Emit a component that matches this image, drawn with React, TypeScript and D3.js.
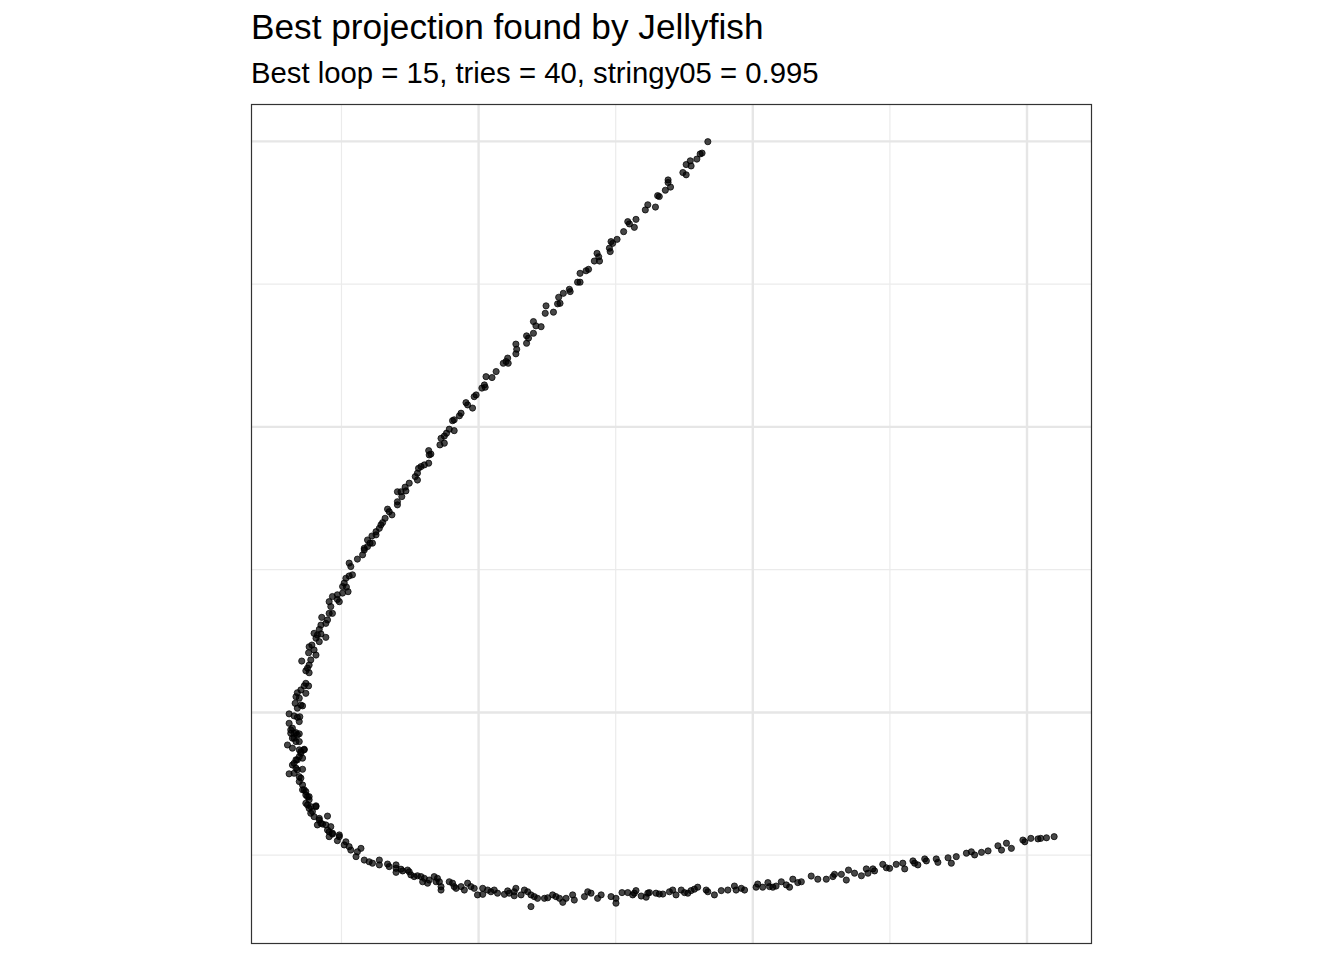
import React from "react";
import * as d3 from "d3";

const titleText = "Best projection found by Jellyfish";
const subtitleText = "Best loop = 15, tries = 40, stringy05 = 0.995";

const xDomain: [number, number] = [-0.83, 2.237];
const yDomain: [number, number] = [-0.811, 2.131];
const xMajorBreaks = [0, 1, 2];
const xMinorBreaks = [-0.5, 0.5, 1.5];
const yMajorBreaks = [0, 1, 2];
const yMinorBreaks = [-0.5, 0.5, 1.5];

// projected coordinates (P1, P2)
const upperArm: [number, number][] = [
  [0.836, 1.999], [0.815, 1.959], [0.808, 1.956], [0.796, 1.938], [0.772, 1.932],
  [0.757, 1.919], [0.775, 1.914], [0.745, 1.891], [0.757, 1.883], [0.691, 1.865],
  [0.691, 1.856], [0.7, 1.84], [0.681, 1.829], [0.653, 1.81], [0.659, 1.807],
  [0.617, 1.778], [0.608, 1.76], [0.645, 1.77], [0.574, 1.727], [0.544, 1.719],
  [0.55, 1.711], [0.568, 1.699], [0.529, 1.684], [0.505, 1.657], [0.483, 1.649],
  [0.489, 1.643], [0.477, 1.626], [0.48, 1.614], [0.432, 1.608], [0.438, 1.596],
  [0.422, 1.581], [0.441, 1.581], [0.401, 1.552], [0.392, 1.547], [0.37, 1.538],
  [0.361, 1.507], [0.37, 1.507], [0.331, 1.482],
  [0.334, 1.474], [0.309, 1.468], [0.292, 1.454], [0.297, 1.433], [0.288, 1.431],
  [0.246, 1.424], [0.273, 1.402], [0.243, 1.398], [0.2, 1.369], [0.209, 1.354],
  [0.228, 1.351], [0.2, 1.328], [0.175, 1.319], [0.182, 1.311], [0.175, 1.293],
  [0.136, 1.29], [0.139, 1.272], [0.136, 1.256], [0.106, 1.241], [0.1, 1.229],
  [0.09, 1.223], [0.108, 1.223], [0.064, 1.194], [0.049, 1.173], [0.027, 1.176],
  [0.021, 1.147], [0.012, 1.136], [0.024, 1.139], [-0.009, 1.112], [-0.016, 1.106],
  [-0.046, 1.085], [-0.04, 1.077], [-0.022, 1.066], [-0.064, 1.048], [-0.07, 1.039],
  [-0.089, 1.025], [-0.095, 1.022], [-0.089, 0.987], [-0.107, 0.992], [-0.117, 0.978],
  [-0.125, 0.968], [-0.137, 0.96],
];

const middleArm: [number, number][] = [
  [-0.125, 0.943], [-0.141, 0.937], [-0.182, 0.917], [-0.174, 0.905], [-0.18, 0.902],
  [-0.182, 0.873], [-0.198, 0.867], [-0.21, 0.861], [-0.219, 0.855], [-0.223, 0.838],
  [-0.231, 0.826], [-0.223, 0.814], [-0.253, 0.803], [-0.268, 0.789], [-0.265, 0.776],
  [-0.283, 0.773], [-0.296, 0.773], [-0.28, 0.756], [-0.296, 0.738], [-0.296, 0.727],
  [-0.332, 0.712], [-0.326, 0.703], [-0.316, 0.692], [-0.341, 0.68], [-0.35, 0.665],
  [-0.356, 0.657], [-0.362, 0.645], [-0.374, 0.633], [-0.374, 0.622], [-0.389, 0.618],
  [-0.405, 0.604], [-0.396, 0.593], [-0.387, 0.593], [-0.405, 0.581], [-0.417, 0.575],
  [-0.417, 0.569], [-0.423, 0.552], [-0.442, 0.537], [-0.472, 0.523], [-0.466, 0.511],
  [-0.46, 0.482], [-0.472, 0.478], [-0.484, 0.47], [-0.49, 0.453], [-0.496, 0.441],
  [-0.482, 0.439], [-0.476, 0.423], [-0.496, 0.418], [-0.515, 0.412], [-0.533, 0.406],
  [-0.545, 0.388], [-0.508, 0.388], [-0.515, 0.396], [-0.539, 0.371], [-0.533, 0.347],
  [-0.545, 0.347], [-0.572, 0.333], [-0.551, 0.324], [-0.557, 0.312], [-0.575, 0.306],
  [-0.581, 0.291], [-0.6, 0.277], [-0.588, 0.271], [-0.575, 0.275], [-0.593, 0.26],
  [-0.557, 0.263], [-0.581, 0.248], [-0.608, 0.236], [-0.618, 0.23], [-0.6, 0.219],
  [-0.62, 0.209], [-0.593, 0.201], [-0.612, 0.184], [-0.645, 0.18], [-0.618, 0.166],
  [-0.624, 0.155], [-0.63, 0.146], [-0.618, 0.139], [-0.63, 0.102], [-0.636, 0.093],
  [-0.62, 0.093], [-0.648, 0.079], [-0.661, 0.069], [-0.63, 0.067], [-0.666, 0.055],
  [-0.654, 0.05], [-0.669, 0.032], [-0.648, 0.026], [-0.642, 0.023], [-0.661, 0.015],
  [-0.691, -0.005], [-0.673, -0.012], [-0.661, -0.017], [-0.652, -0.015],
];

const bendArm: [number, number][] = [
  [-0.691, -0.038], [-0.679, -0.055], [-0.685, -0.073], [-0.666, -0.071], [-0.654, -0.075],
  [-0.673, -0.09], [-0.697, -0.114], [-0.654, -0.102], [-0.679, -0.125], [-0.636, -0.129],
  [-0.648, -0.137], [-0.654, -0.155], [-0.666, -0.166], [-0.673, -0.178], [-0.679, -0.184],
  [-0.642, -0.199], [-0.661, -0.201], [-0.691, -0.215], [-0.673, -0.213], [-0.648, -0.23],
  [-0.654, -0.242], [-0.642, -0.254], [-0.636, -0.271], [-0.63, -0.289], [-0.618, -0.295],
  [-0.63, -0.318], [-0.593, -0.327], [-0.618, -0.336], [-0.612, -0.353], [-0.6, -0.365],
  [-0.581, -0.377], [-0.551, -0.363], [-0.569, -0.391], [-0.588, -0.394], [-0.539, -0.4],
  [-0.551, -0.412], [-0.545, -0.435], [-0.533, -0.426], [-0.508, -0.435], [-0.515, -0.449],
  [-0.484, -0.453], [-0.49, -0.464], [-0.472, -0.47], [-0.429, -0.476], [-0.466, -0.482],
  [-0.442, -0.488], [-0.447, -0.505], [-0.417, -0.517], [-0.399, -0.523], [-0.387, -0.528],
  [-0.362, -0.517], [-0.362, -0.534], [-0.332, -0.531], [-0.326, -0.54], [-0.301, -0.534],
  [-0.283, -0.549],
  [-0.654, -0.032], [-0.685, -0.061], [-0.673, -0.073], [-0.661, -0.079], [-0.679, -0.09],
  [-0.666, -0.102], [-0.654, -0.131], [-0.636, -0.131], [-0.648, -0.143], [-0.642, -0.16],
  [-0.661, -0.166], [-0.666, -0.195], [-0.654, -0.225], [-0.642, -0.271], [-0.63, -0.277],
  [-0.624, -0.295], [-0.618, -0.306], [-0.624, -0.324], [-0.612, -0.33], [-0.593, -0.33],
  [-0.606, -0.347], [-0.581, -0.371], [-0.575, -0.388], [-0.557, -0.394], [-0.545, -0.418],
  [-0.533, -0.423], [-0.508, -0.429],
];

const lowerArm: [number, number][] = [
  [-0.301, -0.546], [-0.301, -0.56], [-0.277, -0.555], [-0.259, -0.552], [-0.253, -0.558],
  [-0.247, -0.569], [-0.235, -0.575], [-0.223, -0.572], [-0.21, -0.575], [-0.198, -0.581],
  [-0.204, -0.593], [-0.186, -0.598], [-0.18, -0.587], [-0.162, -0.575], [-0.155, -0.593],
  [-0.15, -0.581], [-0.143, -0.593], [-0.137, -0.61], [-0.137, -0.622], [-0.107, -0.593],
  [-0.095, -0.598], [-0.089, -0.61], [-0.082, -0.616], [-0.064, -0.61], [-0.052, -0.622],
  [-0.04, -0.598], [-0.028, -0.61], [-0.016, -0.616], [-0.004, -0.639], [0.015, -0.616],
  [0.015, -0.637], [0.033, -0.622], [0.045, -0.628], [0.057, -0.622], [0.069, -0.633],
  [0.094, -0.637], [0.106, -0.625], [0.112, -0.633], [0.13, -0.628], [0.136, -0.616],
  [0.13, -0.642], [0.155, -0.639], [0.167, -0.622], [0.179, -0.628], [0.191, -0.639],
  [0.203, -0.645], [0.191, -0.68], [0.215, -0.651], [0.24, -0.651], [0.252, -0.649],
  [0.27, -0.639], [0.282, -0.645], [0.295, -0.651], [0.307, -0.665], [0.319, -0.651],
  [0.343, -0.639], [0.349, -0.657], [0.386, -0.645], [0.398, -0.628], [0.41, -0.633],
  [0.434, -0.651], [0.447, -0.639], [0.483, -0.645],
  [0.501, -0.651], [0.501, -0.668], [0.523, -0.631], [0.544, -0.631], [0.562, -0.639],
  [0.574, -0.624], [0.568, -0.633], [0.593, -0.643], [0.611, -0.647], [0.617, -0.633],
  [0.623, -0.631], [0.647, -0.633], [0.659, -0.636], [0.672, -0.636], [0.696, -0.628],
  [0.708, -0.622], [0.72, -0.639], [0.739, -0.622], [0.751, -0.631], [0.763, -0.633],
  [0.775, -0.624], [0.787, -0.619], [0.799, -0.612], [0.83, -0.622], [0.836, -0.628],
  [0.86, -0.639], [0.885, -0.624], [0.909, -0.622], [0.933, -0.608], [0.939, -0.622],
  [0.958, -0.616], [0.97, -0.622], [1.012, -0.612], [1.018, -0.601], [1.036, -0.612],
  [1.055, -0.596], [1.061, -0.61], [1.073, -0.612], [1.085, -0.608], [1.104, -0.593],
  [1.122, -0.604], [1.134, -0.612], [1.146, -0.584], [1.164, -0.596], [1.177, -0.593],
  [1.213, -0.573], [1.237, -0.584], [1.268, -0.584],
];

const tailArm: [number, number][] = [
  [1.292, -0.575], [1.298, -0.567], [1.323, -0.567], [1.341, -0.587], [1.349, -0.552],
  [1.371, -0.563], [1.396, -0.572], [1.414, -0.548], [1.42, -0.563], [1.438, -0.548],
  [1.444, -0.555], [1.474, -0.532], [1.487, -0.544], [1.499, -0.546], [1.523, -0.532],
  [1.547, -0.528], [1.554, -0.548], [1.584, -0.52], [1.59, -0.528], [1.602, -0.534],
  [1.627, -0.513], [1.633, -0.52], [1.669, -0.513], [1.675, -0.525], [1.712, -0.509],
  [1.724, -0.528], [1.742, -0.505], [1.779, -0.493], [1.797, -0.488], [1.809, -0.499],
  [1.834, -0.49], [1.858, -0.485], [1.894, -0.467], [1.907, -0.482], [1.925, -0.458],
  [1.943, -0.476], [1.985, -0.447], [1.992, -0.453], [2.014, -0.441], [2.04, -0.443],
  [2.05, -0.441], [2.071, -0.439], [2.099, -0.435],
];

const allPoints = [...upperArm, ...middleArm, ...bendArm, ...lowerArm, ...tailArm];

const W = 1344;
const H = 960;
const panel = { left: 251, right: 1092, top: 104, bottom: 944 };

export default function App() {
  const x = d3.scaleLinear().domain(xDomain).range([panel.left, panel.right]);
  const y = d3.scaleLinear().domain(yDomain).range([panel.bottom, panel.top]);
  const font = "'Liberation Sans', Arial, Helvetica, sans-serif";
  return (
    <div style={{ position: "absolute", left: 0, top: 0 }}>
      <svg width={W} height={H} style={{ display: "block", background: "#ffffff" }}>
        <rect x={0} y={0} width={W} height={H} fill="#ffffff" />
        <rect
          x={panel.left}
          y={panel.top}
          width={panel.right - panel.left}
          height={panel.bottom - panel.top}
          fill="#ffffff"
        />
        <g>
          {xMinorBreaks.map((v) => (
            <line key={"xm" + v} x1={x(v)} x2={x(v)} y1={panel.top} y2={panel.bottom} stroke="#ebebeb" strokeWidth={1.2} />
          ))}
          {yMinorBreaks.map((v) => (
            <line key={"ym" + v} x1={panel.left} x2={panel.right} y1={y(v)} y2={y(v)} stroke="#ebebeb" strokeWidth={1.2} />
          ))}
          {xMajorBreaks.map((v) => (
            <line key={"xM" + v} x1={x(v)} x2={x(v)} y1={panel.top} y2={panel.bottom} stroke="#e6e6e6" strokeWidth={2.4} />
          ))}
          {yMajorBreaks.map((v) => (
            <line key={"yM" + v} x1={panel.left} x2={panel.right} y1={y(v)} y2={y(v)} stroke="#e6e6e6" strokeWidth={2.4} />
          ))}
        </g>
        <g>
          {allPoints.map((p, i) => (
            <circle
              key={i}
              cx={x(p[0])}
              cy={y(p[1])}
              r={3.1}
              fill="#000000"
              fillOpacity={0.72}
              stroke="#000000"
              strokeOpacity={0.8}
              strokeWidth={0.9}
            />
          ))}
        </g>
        <rect
          x={panel.left + 0.5}
          y={panel.top + 0.5}
          width={panel.right - panel.left - 1}
          height={panel.bottom - panel.top - 1}
          fill="none"
          stroke="#333333"
          strokeWidth={1.2}
        />
        <text x={panel.left} y={39} fontFamily={font} fontSize={35.2} fill="#000000">
          {titleText}
        </text>
        <text x={panel.left} y={83} fontFamily={font} fontSize={29.3} fill="#000000">
          {subtitleText}
        </text>
      </svg>
    </div>
  );
}
